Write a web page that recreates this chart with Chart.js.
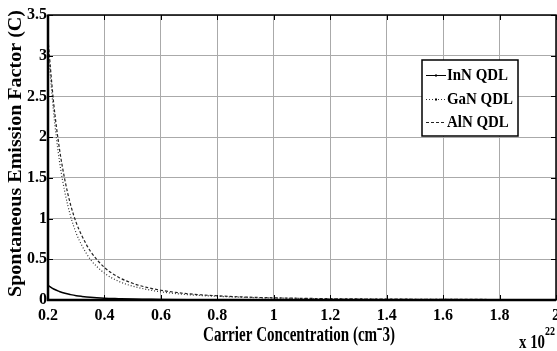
<!DOCTYPE html>
<html>
<head>
<meta charset="utf-8">
<script src="https://cdn.jsdelivr.net/npm/chart.js@4/dist/chart.umd.min.js"></script>
<style>
  html, body { margin: 0; padding: 0; background: #fff; }
  #wrap { width: 557px; height: 351px; }
</style>
</head>
<body>
<div id="wrap"><canvas id="myChart" width="557" height="351"></canvas></div>
<script>
// carrier concentration, in units of 1e22 cm^-3
const concentration = [0.2, 0.22, 0.24, 0.26, 0.28, 0.3, 0.32, 0.35, 0.4, 0.45, 0.5, 0.55, 0.6, 0.7, 0.8, 0.9, 1.0, 1.2, 1.4, 1.6, 1.8, 2.0];
const innQdl = [0.18, 0.135, 0.105, 0.082, 0.066, 0.053, 0.044, 0.033, 0.022, 0.016, 0.011, 0.009, 0.007, 0.004, 0.003, 0.002, 0.0015, 0.001, 0.0007, 0.0005, 0.0005, 0.0005];
const ganQdl = [3.1, 2.3, 1.72, 1.32, 1.03, 0.82, 0.67, 0.5, 0.33, 0.23, 0.17, 0.13, 0.1, 0.064, 0.045, 0.032, 0.024, 0.014, 0.009, 0.007, 0.005, 0.004];
const alnQdl = [3.2, 2.42, 1.87, 1.47, 1.17, 0.95, 0.79, 0.6, 0.4, 0.28, 0.205, 0.155, 0.12, 0.075, 0.052, 0.036, 0.027, 0.016, 0.011, 0.008, 0.006, 0.004];
const seriesNames = ['InN QDL', 'GaN QDL', 'AlN QDL'];

const serif = '"Liberation Serif", "Times New Roman", serif';

function pts(ys) {
    return concentration.map((x, i) => ({ x: x, y: ys[i] }));
}

// the original figure was squeezed sideways, so text is drawn narrower than the font
function stretchText(ctx, text, x, y, size, width, align, angle) {
    ctx.save();
    ctx.font = 'bold ' + size + 'px ' + serif;
    const w = ctx.measureText(text).width;
    ctx.translate(x, y);
    if (angle) ctx.rotate(angle);
    ctx.scale(width / w, 1);
    ctx.textAlign = align || 'left';
    ctx.fillText(text, 0, 0);
    ctx.restore();
}

// box, inward ticks, legend, titles and exponent, MATLAB style
const matlabLook = {
    id: 'matlabLook',
    afterDraw(chart) {
        const ctx = chart.ctx;
        const a = chart.chartArea;
        const xs = chart.scales.x, ys = chart.scales.y;
        ctx.save();
        ctx.strokeStyle = '#000';
        // inward ticks
        ctx.lineWidth = 1;
        ctx.beginPath();
        xs.ticks.forEach(t => {
            const px = Math.round(xs.getPixelForValue(t.value)) + 0.5;
            ctx.moveTo(px, a.bottom); ctx.lineTo(px, a.bottom - 5);
            ctx.moveTo(px, a.top); ctx.lineTo(px, a.top + 5);
        });
        ys.ticks.forEach(t => {
            const py = Math.round(ys.getPixelForValue(t.value)) + 0.5;
            ctx.moveTo(a.left, py); ctx.lineTo(a.left + 5, py);
            ctx.moveTo(a.right, py); ctx.lineTo(a.right - 5, py);
        });
        ctx.stroke();
        // axes box
        ctx.lineWidth = 1.5;
        ctx.strokeRect(a.left, a.top, a.right - a.left, a.bottom - a.top);
        ctx.lineWidth = 2.5;
        ctx.beginPath();
        ctx.moveTo(a.left, a.top); ctx.lineTo(a.left, a.bottom); ctx.lineTo(a.right, a.bottom);
        ctx.stroke();

        // legend
        const lx = 422, ly = 60, lw = 96, lh = 76;
        ctx.fillStyle = '#fff';
        ctx.fillRect(lx, ly, lw, lh);
        ctx.lineWidth = 1.5;
        ctx.strokeRect(lx, ly, lw, lh);
        const rows = [75, 99, 122];
        ctx.font = 'bold 17px ' + serif;
        const squeeze = 61 / ctx.measureText(seriesNames[0]).width;
        ctx.textBaseline = 'middle';
        chart.data.datasets.forEach((ds, i) => {
            const y = rows[i] + 0.5;
            ctx.strokeStyle = ds.borderColor;
            ctx.lineWidth = 1;
            ctx.setLineDash(ds.borderDash || []);
            ctx.beginPath();
            ctx.moveTo(426, y); ctx.lineTo(446, y);
            ctx.stroke();
            ctx.setLineDash([]);
            ctx.fillStyle = '#000';
            if (i < 2) ctx.fillRect(435, y - 1, 2, 2);
            ctx.font = 'bold 17px ' + serif;
            const w = ctx.measureText(ds.label).width * squeeze;
            stretchText(ctx, ds.label, 447, rows[i] + 1, 17, w, 'left');
        });

        // titles and exponent
        ctx.fillStyle = '#000';
        ctx.textBaseline = 'alphabetic';
        stretchText(ctx, 'Carrier Concentration (cm\u207B3)', 299, 341, 20, 192, 'center');
        stretchText(ctx, 'Spontaneous Emission Factor (C)', 21, 153.5, 18, 287, 'center', -Math.PI / 2);
        stretchText(ctx, 'x 10', 519, 348, 18, 26, 'left');
        stretchText(ctx, '22', 545, 335, 12, 10, 'left');
        ctx.restore();
    }
};

const data = {
    datasets: [{
        label: seriesNames[0],
        data: pts(innQdl),
        borderColor: '#000',
        borderWidth: 1.5
    }, {
        label: seriesNames[1],
        data: pts(ganQdl),
        borderColor: '#333',
        borderWidth: 1.2,
        borderDash: [1, 2]
    }, {
        label: seriesNames[2],
        data: pts(alnQdl),
        borderColor: '#222',
        borderWidth: 1.2,
        borderDash: [3, 2]
    }]
};

const config = {
    type: 'line',
    data: data,
    options: {
        responsive: false,
        animation: false,
        layout: { padding: { top: 15, right: 1, left: 0, bottom: 0 } },
        elements: {
            point: { radius: 0 },
            line: { cubicInterpolationMode: 'monotone', fill: false }
        },
        plugins: {
            legend: { display: false },
            tooltip: { enabled: false }
        },
        scales: {
            x: {
                type: 'linear',
                min: 0.2,
                max: 2,
                ticks: {
                    stepSize: 0.2,
                    padding: 6,
                    maxRotation: 0,
                    color: '#000',
                    font: { family: serif, size: 16, weight: 'bold' },
                    callback: v => String(Number(v.toFixed(1)))
                },
                grid: { color: '#aaa', lineWidth: 1, drawTicks: false },
                border: { display: false },
                afterFit(scale) {
                    scale.height = 51;
                    scale.paddingLeft = 0;
                    scale.paddingRight = 0;
                }
            },
            y: {
                min: 0,
                max: 3.5,
                ticks: {
                    stepSize: 0.5,
                    padding: 1,
                    color: '#000',
                    font: { family: serif, size: 16, weight: 'bold' },
                    callback: v => String(Number(v.toFixed(1)))
                },
                grid: { color: '#aaa', lineWidth: 1, drawTicks: false },
                border: { display: false },
                afterFit(scale) {
                    scale.width = 48;
                    scale.paddingTop = 0;
                    scale.paddingBottom = 0;
                }
            }
        }
    },
    plugins: [matlabLook]
};

var myChart = new Chart(
    document.getElementById('myChart'),
    config
);
</script>
</body>
</html>
